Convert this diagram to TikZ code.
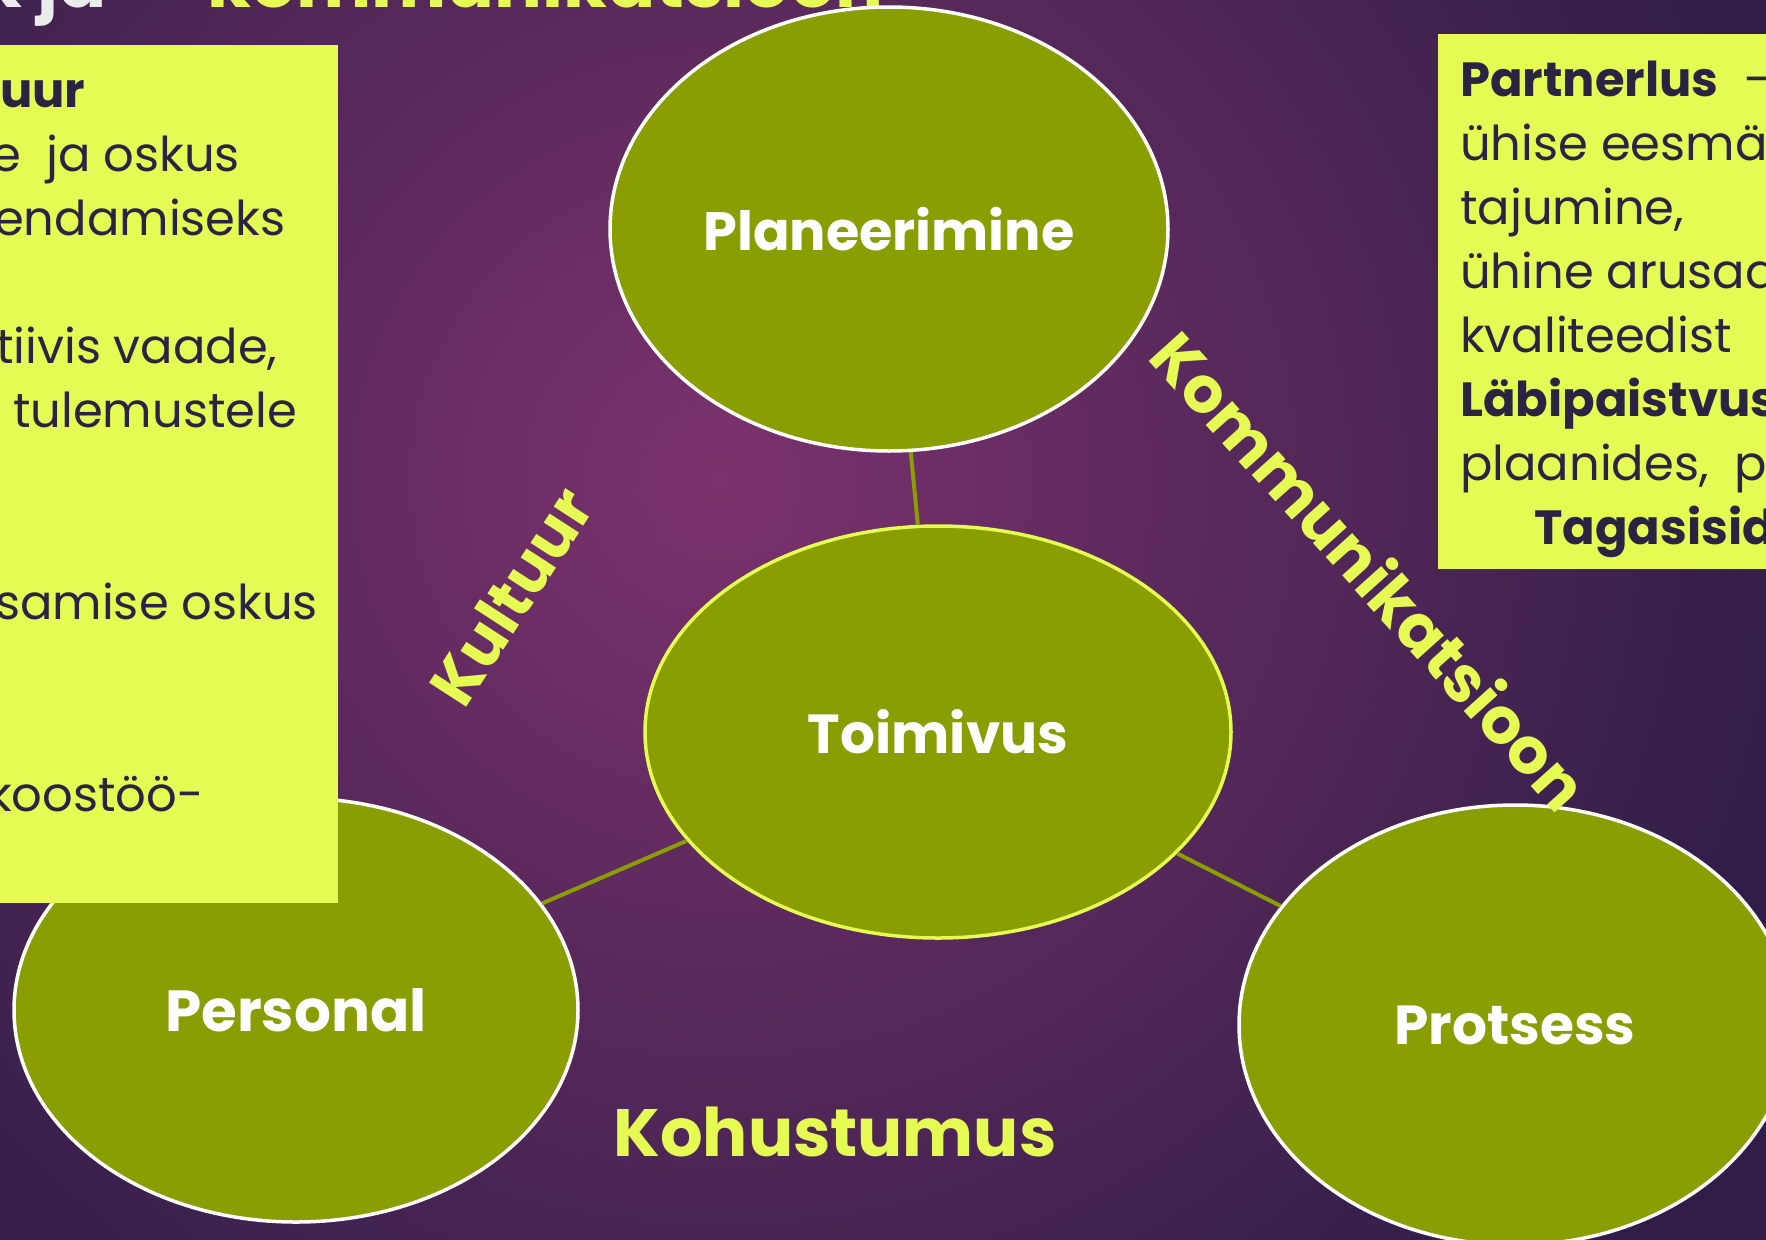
\documentclass[tikz,border=0pt]{standalone}
\usepackage{fontspec}
\setmainfont{Poppins}
\usetikzlibrary{shapes.geometric}
\definecolor{olivefill}{RGB}{138,157,3}
\definecolor{limebox}{RGB}{229,250,82}
\definecolor{ink}{RGB}{42,36,66}
\definecolor{bgin}{RGB}{124,50,108}
\definecolor{bgout}{RGB}{48,30,72}
\definecolor{titlewhite}{RGB}{236,236,236}
\tikzset{
  ell/.style={ellipse, fill=olivefill, line width=3.5pt, inner sep=0pt,
              text=white, font=\fontsize{58}{60}\selectfont\bfseries},
  link/.style={draw=olivefill, line width=4pt},
  boxtext/.style={anchor=base west, inner sep=0pt, text=ink,
                  font=\fontsize{48}{50}\selectfont},
  axislabel/.style={text=limebox, inner sep=0pt, font=\fontsize{60}{62}\selectfont\bfseries}
}
\begin{document}
\begin{tikzpicture}[x=1pt,y=-1pt]
\useasboundingbox (0,0) rectangle (1766,1239);
\clip (0,0) rectangle (1766,1239);
% background
\shade[inner color=bgin, outer color=bgout] (-380,-620) rectangle (1820,1580);
% title fragments
\node[anchor=base west, inner sep=0pt, text=titlewhite, font=\fontsize{71}{71}\selectfont\bfseries] (t1) at (-22,8) {k ja};
\node[anchor=base west, inner sep=0pt, text=limebox, font=\fontsize{71}{71}\selectfont\bfseries] (t2) at (207,8) {kommunikatsioon};
% ellipses
\node[ell, draw=white, minimum width=558pt, minimum height=444pt, font=\fontsize{54}{56}\selectfont\bfseries] (plan) at (889,229) {Planeerimine};
\node[ell, draw=white, minimum width=564pt, minimum height=424pt] (pers) at (296,1010) {Personal};
\node[ell, draw=white, minimum width=552pt, minimum height=440pt, font=\fontsize{55}{57}\selectfont\bfseries] (prot) at (1515,1025) {Protsess};
\node[ell, draw=limebox, minimum width=586pt, minimum height=412pt, font=\fontsize{55}{57}\selectfont\bfseries] (toim) at (938,732) {Toimivus};
\draw[link] (plan) -- (toim);
\draw[link] (pers) -- (toim);
\draw[link] (toim) -- (prot);
% left box
\fill[limebox] (-10,45) rectangle (338,903);
\node[boxtext, font=\fontsize{48}{50}\selectfont\bfseries] (l1) at (0,107) {uur};
\node[boxtext] (l2) at (-9,171) {e\ \ ja oskus};
\node[boxtext] (l3) at (-6,235) {endamiseks};
\node[boxtext] (l4) at (-4,363) {tiivis vaade,};
\node[boxtext] (l5) at (13,427) {tulemustele};
\node[boxtext] (l6) at (-5,619) {samise oskus};
\node[boxtext] (l7) at (-13,811) {koostöö-};
% right box
\fill[limebox] (1438,34) rectangle (1780,569);
\node[boxtext] (r1) at (1460,96) {\textbf{Partnerlus}\ \ -};
\node[boxtext] (r2) at (1460,160) {ühise eesmä};
\node[boxtext] (r3) at (1460,224) {tajumine,};
\node[boxtext] (r4) at (1460,288) {ühine arusaa};
\node[boxtext] (r5) at (1460,352) {kvaliteedist};
\node[boxtext, font=\fontsize{48}{50}\selectfont\bfseries] (r6) at (1460,416) {Läbipaistvus};
\node[boxtext] (r7) at (1460,480) {plaanides,\ \ p};
\node[boxtext, font=\fontsize{48}{50}\selectfont\bfseries] (r8) at (1534,544) {Tagasisid};
% axis labels
\node[axislabel, rotate=57, font=\fontsize{63}{65}\selectfont\bfseries] (kult) at (511,596) {Kultuur};
\node[axislabel, rotate=-48, font=\fontsize{64}{66}\selectfont\bfseries] (komm) at (1371,570) {Kommunikatsioon};
\node[axislabel, font=\fontsize{67}{69}\selectfont\bfseries] (kohu) at (835,1132) {Kohustumus};
\end{tikzpicture}
\end{document}
